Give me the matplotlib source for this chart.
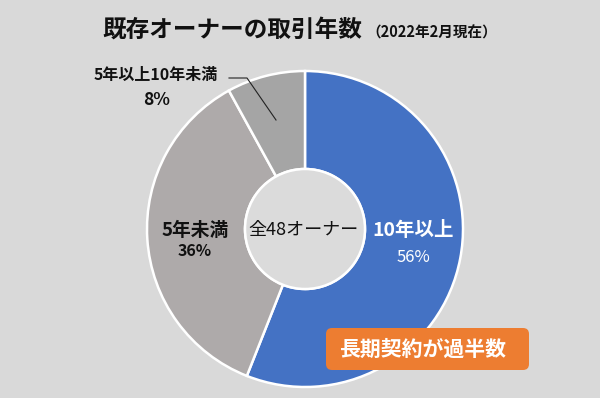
import matplotlib
matplotlib.use("Agg")
import matplotlib.pyplot as plt
from matplotlib.patches import FancyBboxPatch, Circle

plt.rcParams['font.family'] = ['Noto Sans CJK JP', 'DejaVu Sans']

categories = ["10年以上", "5年未満", "5年以上10年未満"]
values = [56, 36, 8]
pct_labels = ["56%", "36%", "8%"]
colors = ["#4472C4", "#AEAAAA", "#A5A5A5"]
title = "既存オーナーの取引年数"
subtitle = "（2022年2月現在）"
center_text = "全48オーナー"
callout = "長期契約が過半数"

W, H = 600, 398
BG = "#D9D9D9"
fig = plt.figure(figsize=(W / 100, H / 100), dpi=100, facecolor=BG)
ax = fig.add_axes([0, 0, 1, 1])
ax.set_facecolor(BG)

def Y(py):
    return H - py

cx, cy, R, ring = 305, 229, 158, 98
ax.pie(values, colors=colors, startangle=90, counterclock=False,
       center=(cx, Y(cy)), radius=R,
       wedgeprops=dict(width=ring, edgecolor="white", linewidth=1.8))
ax.add_patch(Circle((cx, Y(cy)), R - ring, facecolor="#DBDBDB",
                    edgecolor="white", linewidth=1.8, zorder=3))
ax.set_xlim(0, W)
ax.set_ylim(0, H)
ax.set_aspect("equal")
ax.axis("off")

# title
ax.text(102, Y(30), title, fontsize=17, fontweight="bold", color="#111111",
        ha="left", va="center")
ax.text(366, Y(33), subtitle, fontsize=10.5, fontweight="bold", color="#111111",
        ha="left", va="center")

# center text
ax.text(303, Y(230), center_text, fontsize=13, color="#111111",
        ha="center", va="center", zorder=4)

# slice labels
ax.text(413, Y(230), categories[0], fontsize=14, fontweight="bold", color="white",
        ha="center", va="center")
ax.text(413, Y(258), pct_labels[0], fontsize=12, color="white",
        ha="center", va="center")
ax.text(195, Y(230), categories[1], fontsize=13.5, fontweight="bold", color="#111111",
        ha="center", va="center")
ax.text(195, Y(251), pct_labels[1], fontsize=11.5, fontweight="bold", color="#111111",
        ha="center", va="center")
ax.text(156, Y(75), categories[2], fontsize=11.5, fontweight="bold", color="#111111",
        ha="center", va="center")
ax.text(157, Y(100), pct_labels[2], fontsize=12.5, fontweight="bold", color="#111111",
        ha="center", va="center")

# leader line
ax.plot([229, 247, 276], [Y(78), Y(78), Y(120)], color="#222222", linewidth=0.8, zorder=5)

# callout box
box = FancyBboxPatch((326, Y(370)), 203, 42,
                     boxstyle="round,pad=0,rounding_size=6",
                     facecolor="#ED7D31", edgecolor="none", zorder=6)
ax.add_patch(box)
ax.text(423, Y(349), callout, fontsize=15, fontweight="bold", color="white",
        ha="center", va="center", zorder=7)

fig.savefig("out.png", dpi=100, facecolor=BG)
